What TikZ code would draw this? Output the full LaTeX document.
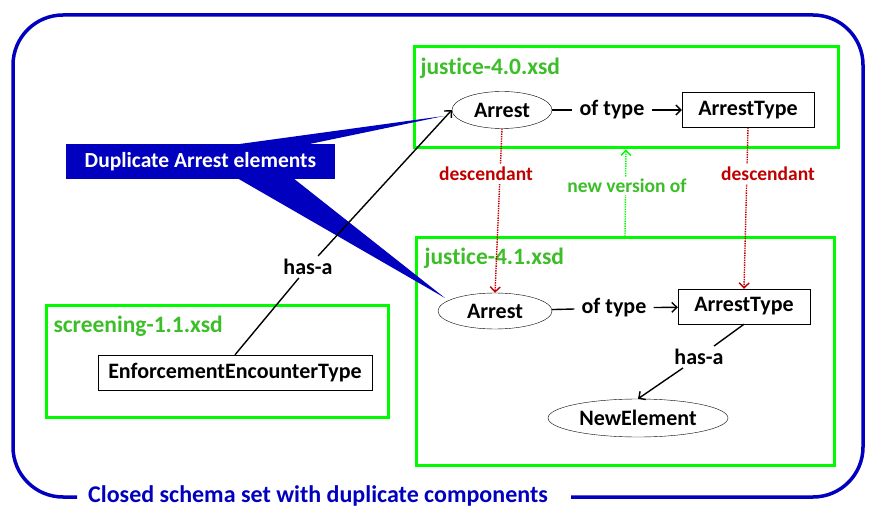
\documentclass[tikz,border=0pt]{standalone}
\usepackage{fontspec}
\setmainfont{Carlito}[Ligatures=NoCommon]
\usetikzlibrary{shapes, positioning, arrows.meta}
\definecolor{schemablue}{RGB}{0,0,190}
\definecolor{xsdgreen}{RGB}{0,250,0}
\definecolor{titlegreen}{RGB}{60,190,40}
\definecolor{descred}{RGB}{192,0,0}

\begin{document}
\begin{tikzpicture}[x=1pt, y=-1pt, >={Straight Barb[length=5pt, width=10pt]},
        xsdbox/.style={rectangle, draw=xsdgreen, line width=3pt},
        xsdname/.style={anchor=west, text=titlegreen, font=\bfseries\fontsize{23.5}{27}\selectfont},
        elem/.style={ellipse, draw, fill=white, inner sep=0pt, font=\bfseries\fontsize{22}{26}\selectfont},
        typebox/.style={rectangle, draw, fill=white, minimum height=35pt, font=\bfseries\fontsize{22}{26}\selectfont},
        rel/.style={inner sep=7pt, font=\bfseries\fontsize{22}{26}\selectfont},
        link/.style={line width=1.4pt},
        desc/.style={draw=descred, densely dotted, line width=1.4pt, ->},
        desclabel/.style={fill=white, text=descred, font=\bfseries\fontsize{19.5}{23}\selectfont}
    ]
    \useasboundingbox (0,0) rectangle (878,521);

    % outer border, open at the bottom for the title
    \draw[schemablue, line width=3.5pt, rounded corners=50pt]
        (571,497) -- (863,497) -- (863,15) -- (13,15) -- (13,497) -- (77,497);
    \node[anchor=west, inner sep=0pt, text=schemablue, font=\bfseries\fontsize{24}{28}\selectfont] (closed) at (88,496) {Closed schema set with duplicate components};

    % schema files
    \node[xsdbox, minimum width=424pt, minimum height=101pt] (j40) at (626,97.5) {};
    \node[xsdname] (j40name) at (417,68) {justice-4.0.xsd};
    \node[xsdbox, minimum width=418pt, minimum height=227pt] (j41) at (625,351.5) {};
    \node[xsdname] (j41name) at (421,258) {justice-4.1.xsd};
    \node[xsdbox, minimum width=342pt, minimum height=111pt] (scr) at (217,361.5) {};
    \node[xsdname] (scrname) at (50,326) {screening-1.1.xsd};

    % callout
    \coordinate (tip1) at (444,116);
    \coordinate (tip2) at (445,298);
    \fill[schemablue] (225,146) -- (tip1) -- (300,146) -- cycle;
    \fill[schemablue] (237,178) -- (tip2) -- (293,178) -- cycle;
    \node[rectangle, fill=schemablue, text=white, minimum width=269pt, minimum height=35pt, font=\bfseries\fontsize{21.5}{25}\selectfont] (dup) at (200.5,162) {Duplicate Arrest elements};

    % justice-4.0
    \node[elem, minimum width=100pt, minimum height=37pt] (arr1) at (502,110) {Arrest};
    \node[rel] (ofty1) at (612,110) {of type};
    \node[typebox, minimum width=132pt] (at1) at (748,110) {ArrestType};

    % justice-4.1
    \node[elem, minimum width=114pt, minimum height=36pt] (arr2) at (495,311) {Arrest};
    \node[rel] (ofty2) at (614,308) {of type};
    \node[typebox, minimum width=132pt] (at2) at (744,306.5) {ArrestType};
    \node[rel, inner sep=3pt] (hasa2) at (699,357) {has-a};
    \node[elem, minimum width=180pt, minimum height=38pt] (ne) at (638,418) {NewElement};

    % screening-1.1
    \node[typebox, minimum width=274pt] (eet) at (235,372.5) {EnforcementEncounterType};
    \node[rel, inner sep=3pt] (hasa1) at (308,267) {has-a};

    \draw[link] (arr1) -- (ofty1);
    \draw[link, ->] (ofty1) -- (at1);
    \draw[link] (arr2) -- (ofty2);
    \draw[link, ->] (ofty2) -- (at2);
    \draw[link, ->] (at2.south) -- (hasa2) -- (ne.north);
    \draw[link, ->] (eet.north) -- (hasa1) -- (arr1.west);

    % descendants and versions
    \draw[desc] (arr1.south) -- (arr2.north);
    \draw[desc] (at1.south) -- (at2.north);
    \node[desclabel] (desc1) at (486,174) {descendant};
    \node[desclabel] (desc2) at (768,174) {descendant};
    \draw[draw=xsdgreen, densely dotted, line width=1.4pt, ->] (j41.north) -- (j40.south);
    \node[fill=white, inner sep=2pt, text=titlegreen, font=\bfseries\fontsize{19.5}{23}\selectfont] (newver) at (627,186) {new version of};
\end{tikzpicture}
\end{document}
